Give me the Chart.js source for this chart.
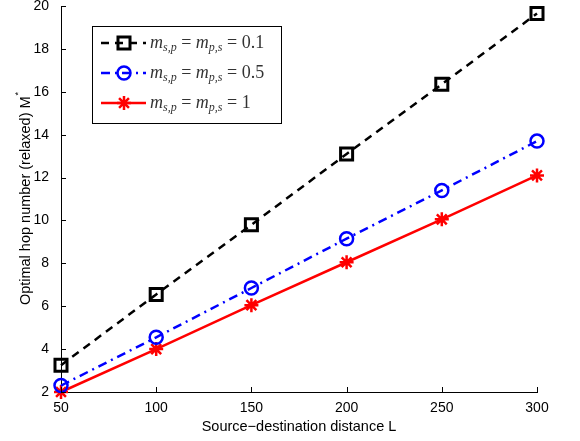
<!DOCTYPE html>
<html>
<head>
<meta charset="utf-8">
<script src="https://cdn.jsdelivr.net/npm/chart.js@4/dist/chart.umd.min.js"></script>
<style>
  html, body { margin: 0; padding: 0; background: #fff; }
  #wrap { width: 580px; height: 441px; }
</style>
</head>
<body>
<div id="wrap"><canvas id="myChart" width="580" height="441"></canvas></div>
<script>
// distances L
const distances = [50, 100, 150, 200, 250, 300];
// optimal hop number for each m value
const hops01 = [3.25, 6.55, 9.8, 13.1, 16.35, 19.65];
const hops05 = [2.3, 4.55, 6.85, 9.15, 11.4, 13.7];
const hops1 = [2.0, 4.0, 6.05, 8.05, 10.05, 12.1];
const seriesValues = ['0.1', '0.5', '1'];
const yTicks = [2, 4, 6, 8, 10, 12, 14, 16, 18, 20];
const xTicks = [50, 100, 150, 200, 250, 300];

const toPoints = ys => distances.map((x, i) => ({ x: x, y: ys[i] }));

const sansFont = '"Liberation Sans", Arial, Helvetica, sans-serif';
const serifFont = '"Liberation Serif", "Times New Roman", serif';

// inward MATLAB style ticks
const tickPlugin = {
  id: 'inwardTicks',
  afterDraw(chart) {
    const ctx = chart.ctx;
    const { left, bottom } = chart.chartArea;
    const xs = chart.scales.x, ys = chart.scales.y;
    ctx.save();
    ctx.strokeStyle = '#000';
    ctx.lineWidth = 1;
    ctx.beginPath();
    yTicks.forEach(v => {
      const py = Math.round(ys.getPixelForValue(v)) + 0.5;
      ctx.moveTo(left, py);
      ctx.lineTo(left + 5, py);
    });
    xTicks.forEach(v => {
      const px = Math.round(xs.getPixelForValue(v)) + 0.5;
      ctx.moveTo(px, bottom);
      ctx.lineTo(px, bottom - 5);
    });
    ctx.stroke();

    // y axis title with superscript star
    const cy = (chart.chartArea.top + bottom) / 2;
    ctx.translate(26, cy);
    ctx.rotate(-Math.PI / 2);
    ctx.fillStyle = '#000';
    const main = 'Optimal hop number (relaxed) M';
    ctx.font = '14.5px ' + sansFont;
    const w = ctx.measureText(main).width;
    ctx.font = '9px ' + sansFont;
    const ws = ctx.measureText('*').width;
    const start = -(w + ws) / 2;
    ctx.font = '14.5px ' + sansFont;
    ctx.textBaseline = 'middle';
    ctx.textAlign = 'left';
    ctx.fillText(main, start, 0);
    ctx.font = '9px ' + sansFont;
    ctx.fillText('*', start + w + 1, -7);
    ctx.restore();
  }
};

// legend box with line samples and math text
const legendPlugin = {
  id: 'mathLegend',
  afterDraw(chart) {
    const ctx = chart.ctx;
    ctx.save();
    ctx.fillStyle = '#fff';
    ctx.fillRect(92.5, 26.5, 189, 97);
    ctx.strokeStyle = '#000';
    ctx.lineWidth = 1;
    ctx.strokeRect(92.5, 26.5, 189, 97);

    chart.data.datasets.forEach((ds, i) => {
      const y = 43 + i * 30;
      ctx.save();
      ctx.strokeStyle = ds.borderColor;
      ctx.lineWidth = ds.borderWidth;
      ctx.setLineDash(ds.borderDash || []);
      ctx.beginPath();
      ctx.moveTo(101, y);
      ctx.lineTo(146, y);
      ctx.stroke();
      ctx.restore();
      ctx.save();
      ctx.strokeStyle = ds.pointBorderColor;
      ctx.fillStyle = 'rgba(0,0,0,0)';
      ctx.lineWidth = ds.pointBorderWidth;
      Chart.helpers.drawPoint(ctx, {
        pointStyle: ds.pointStyle,
        rotation: 0,
        radius: ds.pointRadius,
        borderWidth: ds.pointBorderWidth
      }, 124, y);
      ctx.restore();

      // text: m_{s,p} = m_{p,s} = value
      let x = 150;
      const base = y + 5;
      ctx.fillStyle = '#333';
      ctx.textBaseline = 'alphabetic';
      ctx.textAlign = 'left';
      const parts = [
        ['italic 18px ' + serifFont, 'm', 0],
        ['italic 12px ' + serifFont, 's,p', 3],
        ['18px ' + serifFont, ' = ', 0],
        ['italic 18px ' + serifFont, 'm', 0],
        ['italic 12px ' + serifFont, 'p,s', 3],
        ['18px ' + serifFont, ' = ' + seriesValues[i], 0]
      ];
      parts.forEach(p => {
        ctx.font = p[0];
        ctx.fillText(p[1], x, base + p[2]);
        x += ctx.measureText(p[1]).width;
      });
    });
    ctx.restore();
  }
};

const data = {
  datasets: [{
    label: 'm_{s,p} = m_{p,s} = 0.1',
    data: toPoints(hops01),
    borderColor: '#000000',
    borderWidth: 2.5,
    borderDash: [8, 6],
    pointStyle: 'rect',
    pointRadius: 8.5,
    pointBorderWidth: 3,
    pointBorderColor: '#000000',
    pointBackgroundColor: 'rgba(0,0,0,0)',
    clip: false
  }, {
    label: 'm_{s,p} = m_{p,s} = 0.5',
    data: toPoints(hops05),
    borderColor: '#0000ff',
    borderWidth: 2.5,
    borderDash: [9, 5, 2, 5],
    pointStyle: 'circle',
    pointRadius: 6.5,
    pointBorderWidth: 2.5,
    pointBorderColor: '#0000ff',
    pointBackgroundColor: 'rgba(0,0,0,0)',
    clip: false
  }, {
    label: 'm_{s,p} = m_{p,s} = 1',
    data: toPoints(hops1),
    borderColor: '#ff0000',
    borderWidth: 2.5,
    pointStyle: 'star',
    pointRadius: 7,
    pointBorderWidth: 2.5,
    pointBorderColor: '#ff0000',
    pointBackgroundColor: 'rgba(0,0,0,0)',
    clip: false
  }]
};

const config = {
  type: 'line',
  data,
  options: {
    responsive: false,
    animation: false,
    layout: { autoPadding: false, padding: { top: 6, right: 43, left: 0, bottom: 0 } },
    plugins: {
      legend: { display: false },
      tooltip: { enabled: false }
    },
    scales: {
      x: {
        type: 'linear',
        min: 50,
        max: 300,
        afterBuildTicks: s => { s.ticks = xTicks.map(v => ({ value: v })); },
        afterFit: s => { s.height = 49; s.paddingLeft = 0; s.paddingRight = 0; },
        grid: { display: false },
        border: { display: true, color: '#000', width: 1 },
        ticks: { color: '#000', padding: 0, maxRotation: 0, font: { family: sansFont, size: 14 } },
        title: {
          display: true,
          text: 'Source\u2212destination distance L',
          color: '#000',
          font: { family: sansFont, size: 14.5 },
          padding: { top: 0, bottom: 5 }
        }
      },
      y: {
        min: 2,
        max: 20,
        afterBuildTicks: s => { s.ticks = yTicks.map(v => ({ value: v })); },
        afterFit: s => { s.width = 61; s.paddingTop = 0; s.paddingBottom = 0; },
        grid: { display: false },
        border: { display: true, color: '#000', width: 1 },
        ticks: { color: '#000', padding: 4, font: { family: sansFont, size: 14 } }
      }
    }
  },
  plugins: [tickPlugin, legendPlugin]
};

const myChart = new Chart(document.getElementById('myChart'), config);
</script>
</body>
</html>
